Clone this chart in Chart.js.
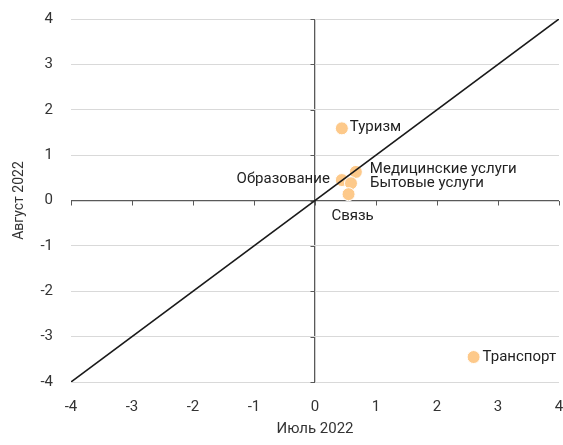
<!DOCTYPE html>
<html>
<head>
<meta charset="utf-8">
<script src="https://cdn.jsdelivr.net/npm/chart.js@4/dist/chart.umd.min.js"></script>
<style>
html,body{margin:0;padding:0;background:#fff;}
#wrap{width:563px;height:445px;}
</style>
</head>
<body>
<div id="wrap"><canvas id="c" width="563" height="445"></canvas></div>
<script>
const categories = ['Туризм', 'Медицинские услуги', 'Образование', 'Бытовые услуги', 'Связь', 'Транспорт'];
const julyValues = [0.44, 0.67, 0.44, 0.59, 0.55, 2.60];
const augustValues = [1.59, 0.63, 0.45, 0.38, 0.14, -3.45];
const tickValues = [-4, -3, -2, -1, 0, 1, 2, 3, 4];
const diagonalX = [-4, 4];
const diagonalY = [-4, 4];
const xTitle = 'Июль 2022';
const yTitle = 'Август 2022';

const FONT = 'Roboto';
const points = categories.map((c, i) => ({x: julyValues[i], y: augustValues[i]}));
const diag = diagonalX.map((x, i) => ({x: x, y: diagonalY[i]}));

// label placement: [textAlign, dx, dy] relative to the point
const labelStyle = [
  ['left', 8, -1],
  ['left', 14, -3],
  ['right', -12, -1],
  ['left', 19, 0],
  ['center', 4, 22],
  ['left', 9, 0]
];

const axisMarks = {
  id: 'axisMarks',
  beforeDatasetsDraw(chart) {
    const ctx = chart.ctx, xs = chart.scales.x, ys = chart.scales.y;
    const x0 = Math.round(xs.getPixelForValue(0)), y0 = Math.round(ys.getPixelForValue(0));
    ctx.save();
    ctx.strokeStyle = '#595959';
    ctx.lineWidth = 1;
    ctx.beginPath();
    tickValues.forEach(v => {
      const px = Math.round(xs.getPixelForValue(v)) + 0.5;
      ctx.moveTo(px, y0);
      ctx.lineTo(px, y0 + 4.5);
      const py = Math.round(ys.getPixelForValue(v)) + 0.5;
      ctx.moveTo(x0, py);
      ctx.lineTo(x0 - 4.5, py);
    });
    ctx.stroke();
    ctx.restore();
  }
};

const pointLabels = {
  id: 'pointLabels',
  afterDatasetsDraw(chart) {
    const ctx = chart.ctx;
    const meta = chart.getDatasetMeta(1);
    ctx.save();
    ctx.font = '15px ' + FONT;
    ctx.fillStyle = '#222';
    ctx.textBaseline = 'middle';
    meta.data.forEach((el, i) => {
      const s = labelStyle[i];
      ctx.textAlign = s[0];
      ctx.fillText(categories[i], el.x + s[1], el.y + s[2]);
    });
    ctx.restore();
  }
};

new Chart(document.getElementById('c'), {
  type: 'scatter',
  data: {
    datasets: [
      {
        type: 'line',
        data: diag,
        borderColor: '#1a1a1a',
        borderWidth: 1.6,
        pointRadius: 0,
        fill: false
      },
      {
        data: points,
        backgroundColor: '#FDC98A',
        borderColor: '#ffffff',
        borderWidth: 1,
        pointRadius: 6.5,
        pointHoverRadius: 6.5
      }
    ]
  },
  options: {
    responsive: false,
    animation: false,
    events: [],
    layout: {autoPadding: false, padding: {top: 19, right: 4, left: 0, bottom: 0}},
    plugins: {legend: {display: false}, tooltip: {enabled: false}},
    scales: {
      x: {
        type: 'linear', min: -4, max: 4,
        afterBuildTicks(s) { s.ticks = tickValues.map(v => ({value: v})); },
        afterFit(s) { s.height = 63; s.paddingLeft = 0; s.paddingRight = 0; },
        ticks: {padding: 16, color: '#333', font: {family: FONT, size: 15}},
        grid: {
          drawTicks: false,
          color: c => (c.tick && c.tick.value === 0) ? '#595959' : 'rgba(0,0,0,0)',
          lineWidth: 1.3
        },
        border: {display: false},
        title: {display: true, text: xTitle, color: '#333', font: {family: FONT, size: 15}, padding: {top: 0, bottom: 7}}
      },
      y: {
        type: 'linear', min: -4, max: 4,
        afterBuildTicks(s) { s.ticks = tickValues.map(v => ({value: v})); },
        afterFit(s) { s.width = 71; s.paddingTop = 0; s.paddingBottom = 0; },
        ticks: {padding: 18, color: '#333', font: {family: FONT, size: 15}},
        grid: {
          drawTicks: false,
          color: c => (c.tick && c.tick.value === 0) ? '#595959' : '#d9d9d9',
          lineWidth: c => (c.tick && c.tick.value === 0) ? 1.3 : 1
        },
        border: {display: false},
        title: {display: true, text: yTitle, color: '#333', font: {family: FONT, size: 14}, padding: {top: 11, bottom: 0}}
      }
    }
  },
  plugins: [axisMarks, pointLabels]
});
</script>
</body>
</html>
